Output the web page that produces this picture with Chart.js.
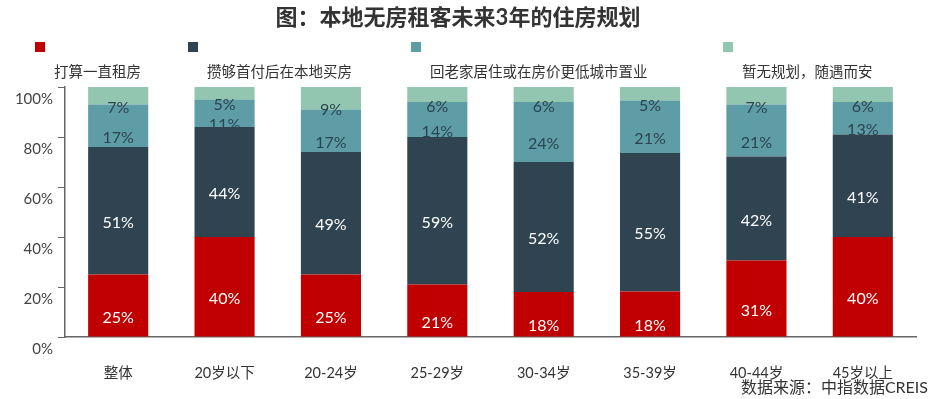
<!DOCTYPE html>
<html lang="zh">
<head>
<meta charset="UTF-8">
<title>本地无房租客未来3年的住房规划</title>
<script src="https://cdn.jsdelivr.net/npm/chart.js"></script>
<style>
    body {
        margin: 0;
        background: #fff;
    }
    .chart-container {
        width: 939px;
        height: 399px;
    }
</style>
</head>
<body>
<div class="chart-container">
    <canvas id="planChart"></canvas>
</div>
<script>
    // data (in %)
    const categories = ["整体", "20岁以下", "20-24岁", "25-29岁", "30-34岁", "35-39岁", "40-44岁", "45岁以上"];
    const seriesNames = ["打算一直租房", "攒够首付后在本地买房", "回老家居住或在房价更低城市置业", "暂无规划，随遇而安"];
    const rentForever = [25, 40, 25, 21, 18, 18.2, 30.6, 40];
    const buyLocal = [51, 44, 49, 59, 52, 55.4, 41.6, 41];
    const goHome = [17, 11, 17, 14, 24, 21, 20.8, 13];
    const noPlan = [7, 5, 9, 6, 6, 5.4, 7, 6];
    const yTicks = [0, 20, 40, 60, 80, 100];

    const colors = ["#c00000", "#2f4450", "#5e9ca6", "#93c6b0"];
    const labelColors = ["#ffffff", "#ffffff", "#2b4550", "#2b4550"];
    const FONT = "Lato, 'Noto Sans CJK SC', sans-serif";

    // legend: colour boxes on one row, names below them
    const legendRow = {
        id: "legendRow",
        afterDraw(chart) {
            const ctx = chart.ctx;
            const xs = [35, 188, 411, 723];
            ctx.save();
            chart.data.datasets.forEach((ds, i) => {
                ctx.fillStyle = ds.backgroundColor;
                ctx.fillRect(xs[i], 42, 10, 10);
                ctx.fillStyle = "#333";
                ctx.font = "14.5px " + FONT;
                ctx.textAlign = "left";
                ctx.textBaseline = "middle";
                ctx.fillText(ds.label, xs[i] + 19, 72);
            });
            // source note
            ctx.font = "16px " + FONT;
            ctx.textAlign = "right";
            ctx.fillStyle = "#333";
            ctx.fillText("数据来源：中指数据CREIS", 928, 388);
            ctx.restore();
        }
    };

    // percentage labels inside the segments (a bit below centre, like the original)
    const segLabels = {
        id: "segLabels",
        afterDatasetsDraw(chart) {
            const ctx = chart.ctx;
            ctx.save();
            ctx.font = "16px " + FONT;
            ctx.textAlign = "center";
            ctx.textBaseline = "middle";
            chart.data.datasets.forEach((ds, i) => {
                const meta = chart.getDatasetMeta(i);
                meta.data.forEach((bar, j) => {
                    ctx.fillStyle = labelColors[i];
                    const y = (bar.y + bar.base) / 2 + 12;
                    ctx.fillText(Math.round(ds.data[j]) + "%", bar.x, y);
                });
            });
            ctx.restore();
        }
    };

    const series = [rentForever, buyLocal, goHome, noPlan];

    let ctx = document.getElementById("planChart").getContext("2d");
    let planChart = new Chart(ctx, {
        type: "bar",
        data: {
            labels: categories,
            datasets: series.map((d, i) => ({
                label: seriesNames[i],
                data: d,
                backgroundColor: colors[i],
                borderWidth: 0,
                barPercentage: 0.565,
                categoryPercentage: 1
            }))
        },
        options: {
            responsive: true,
            maintainAspectRatio: false,
            animation: false,
            layout: {
                padding: { left: 0, right: 23, top: 0, bottom: 0 }
            },
            plugins: {
                legend: { display: false },
                tooltip: { enabled: false },
                title: {
                    display: true,
                    text: "图：本地无房租客未来3年的住房规划",
                    color: "#333",
                    font: { family: FONT, size: 22, weight: "bold" },
                    padding: { top: 5, bottom: 55.6 }
                }
            },
            scales: {
                x: {
                    stacked: true,
                    grid: { display: true, drawOnChartArea: false, drawTicks: false },
                    border: { display: true, color: "#666", width: 1.5 },
                    ticks: {
                        color: "#333",
                        padding: 28,
                        font: { family: FONT, size: 14.5 }
                    },
                    afterFit(scale) { scale.height = 62; }
                },
                y: {
                    stacked: true,
                    min: 0,
                    max: 100,
                    afterBuildTicks(scale) {
                        scale.ticks = yTicks.map(v => ({ value: v }));
                    },
                    grid: { drawOnChartArea: false, drawTicks: true, tickLength: 7, color: "#666" },
                    border: { display: true, color: "#666", width: 1.5 },
                    ticks: {
                        color: "#444",
                        padding: 5,
                        labelOffset: 12,
                        font: { family: FONT, size: 15 },
                        callback: v => v + "%"
                    },
                    afterFit(scale) { scale.width = 65; }
                }
            }
        },
        plugins: [legendRow, segLabels]
    });
</script>
</body>
</html>
